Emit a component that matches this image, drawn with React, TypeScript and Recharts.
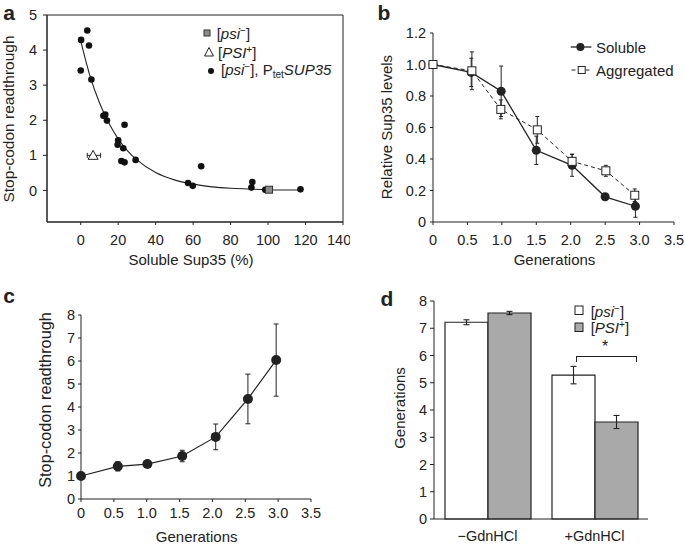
import React from 'react';
import {
  ComposedChart,
  LineChart,
  BarChart,
  Line,
  Bar,
  Scatter,
  XAxis,
  YAxis,
  ErrorBar,
  ReferenceArea,
} from 'recharts';

const FONT = '"Liberation Sans", Arial, Helvetica, sans-serif';
const INK = '#222';
const GREY = '#a9a9a9';

// ---- panel a: readthrough vs soluble Sup35
const solublePct = [0.2, 3.5, 4.4, 0, 5.7, 12.1, 13.1, 14, 23.4, 20, 19.7, 22.7, 21.7, 23.4, 29.3, 64.3, 57.3, 59.8, 91.6, 91.1, 98.5, 99, 117.3];
const readthrough = [4.29, 4.56, 4.13, 3.42, 3.16, 2.13, 2.16, 1.99, 1.87, 1.43, 1.3, 1.2, 0.84, 0.8, 0.87, 0.69, 0.21, 0.13, 0.24, 0.08, 0.02, 0.02, 0.03];
const fitPct = [0, 5, 10, 15, 20, 25, 30, 40, 50, 60, 70, 80, 90, 100, 110, 117];
const fitRead = [4.26, 3.25, 2.5, 1.92, 1.47, 1.13, 0.87, 0.51, 0.3, 0.18, 0.1, 0.06, 0.04, 0.02, 0.01, 0.01];
const psiMinusRef = [{ x: 100.5, y: 0.02 }];
const psiPlusRef = [{ x: 6.6, y: 1.0, xErr: [3.1, 4.0] }];
const aTicksX = [0, 20, 40, 60, 80, 100, 120, 140];
const aTicksY = [0, 1, 2, 3, 4, 5];

// ---- panel b: Sup35 levels over generations
const solGen = [0, 0.555, 0.99, 1.5, 2.02, 2.5, 2.94];
const solLevel = [1.0, 0.95, 0.83, 0.455, 0.36, 0.16, 0.1];
const solErr = [0, 0.09, 0.16, 0.09, 0.07, 0.01, 0.07];
const aggGen = [0, 0.565, 0.985, 1.515, 2.02, 2.51, 2.93];
const aggLevel = [1.0, 0.96, 0.715, 0.585, 0.385, 0.325, 0.17];
const aggErr = [0, 0.12, 0.06, 0.085, 0.045, 0.035, 0.04];
const genTicks = [0, 0.5, 1, 1.5, 2, 2.5, 3, 3.5];
const bTicksY = [0, 0.2, 0.4, 0.6, 0.8, 1.0, 1.2];

// ---- panel c: readthrough over generations
const cGen = [0, 0.56, 1.01, 1.54, 2.05, 2.54, 2.97];
const cRead = [1.0, 1.42, 1.52, 1.87, 2.7, 4.35, 6.04];
const cErr = [0, 0.2, 0.12, 0.25, 0.56, 1.08, 1.57];
const cTicksY = [0, 1, 2, 3, 4, 5, 6, 7, 8];

// ---- panel d: generations, bars
const treatments = ['\u2212GdnHCl', '+GdnHCl'];
const psiMinusGen = [7.22, 5.28];
const psiMinusErr = [0.09, 0.32];
const psiPlusGen = [7.56, 3.56];
const psiPlusErr = [0.06, 0.24];
const dTicksY = [0, 1, 2, 3, 4, 5, 6, 7, 8];

const fitData = fitPct.map((x, i) => ({ x, y: fitRead[i] }));
const dotData = solublePct.map((x, i) => ({ x, y: readthrough[i] }));
const solData = solGen.map((x, i) => ({ x, y: solLevel[i], e: solErr[i] }));
const aggData = aggGen.map((x, i) => ({ x, y: aggLevel[i], e: aggErr[i] }));
const cData = cGen.map((x, i) => ({ x, y: cRead[i], e: cErr[i] }));
const barData = treatments.map((t, i) => ({
  t,
  minus: psiMinusGen[i],
  minusErr: psiMinusErr[i],
  plus: psiPlusGen[i],
  plusErr: psiPlusErr[i],
}));

const tickStyle = { fill: INK, fontSize: 14.5, fontFamily: FONT };
const axisLine = { stroke: INK, strokeWidth: 1 };
const genFmt = (v: number) => (v === 0 ? '0' : v.toFixed(1));

function Txt({
  x,
  y,
  children,
  rotate = false,
  left = false,
  size = 15,
  bold = false,
}: {
  x: number;
  y: number;
  children: React.ReactNode;
  rotate?: boolean;
  left?: boolean;
  size?: number;
  bold?: boolean;
}) {
  const tr = left ? 'translate(0,-50%)' : 'translate(-50%,-50%)';
  return (
    <div
      style={{
        position: 'absolute',
        left: x,
        top: y,
        transform: rotate ? tr + ' rotate(-90deg)' : tr,
        fontFamily: FONT,
        fontSize: size,
        fontWeight: bold ? 700 : 400,
        color: INK,
        whiteSpace: 'nowrap',
        lineHeight: 1,
      }}
    >
      {children}
    </div>
  );
}

const Sup = ({ children }: { children: React.ReactNode }) => (
  <span style={{ fontSize: 10, verticalAlign: 5 }}>{children}</span>
);

function Marker({ x, y, children }: { x: number; y: number; children: React.ReactNode }) {
  return (
    <svg
      width={24}
      height={16}
      style={{ position: 'absolute', left: x - 12, top: y - 8, overflow: 'visible' }}
    >
      {children}
    </svg>
  );
}

export default function App() {
  return (
    <div
      style={{
        position: 'absolute',
        left: 0,
        top: 0,
        width: 685,
        height: 545,
        background: '#fff',
        overflow: 'hidden',
      }}
    >
      {/* a */}
      <div style={{ position: 'absolute', left: 0, top: 0 }}>
        <ComposedChart width={350} height={270} margin={{ top: 15, right: 7, bottom: 18, left: 0 }}>
          <XAxis
            type="number"
            dataKey="x"
            domain={[-18, 140]}
            ticks={aTicksX}
            tick={tickStyle}
            tickSize={3}
            tickMargin={9.5}
            axisLine={axisLine}
            tickLine={axisLine}
            height={30}
            allowDataOverflow
          />
          <YAxis
            type="number"
            dataKey="y"
            domain={[-0.9, 5]}
            ticks={aTicksY}
            tick={tickStyle}
            tickSize={4}
            tickMargin={6}
            axisLine={axisLine}
            tickLine={axisLine}
            width={47}
            allowDataOverflow
          />
          <ReferenceArea x1={-18} x2={140} y1={-0.9} y2={5} fill="none" stroke={INK} strokeWidth={1} />
          <Line
            data={fitData}
            dataKey="y"
            type="monotone"
            stroke={INK}
            strokeWidth={1.1}
            dot={false}
            isAnimationActive={false}
          />
          <Scatter
            data={dotData}
            dataKey="y"
            isAnimationActive={false}
            shape={(p: any) => <circle cx={p.cx} cy={p.cy} r={3.3} fill="#111" />}
          />
          <Scatter
            data={psiMinusRef}
            dataKey="y"
            isAnimationActive={false}
            shape={(p: any) => (
              <rect x={p.cx - 3.5} y={p.cy - 3.5} width={7} height={7} fill="#8c8c8c" stroke="#333" strokeWidth={1} />
            )}
          />
          <Scatter
            data={psiPlusRef}
            dataKey="y"
            isAnimationActive={false}
            shape={(p: any) => (
              <path
                d={`M${p.cx},${p.cy - 5} L${p.cx + 5},${p.cy + 4} L${p.cx - 5},${p.cy + 4} Z`}
                fill="#fff"
                stroke={INK}
                strokeWidth={1}
              />
            )}
          >
            <ErrorBar dataKey="xErr" direction="x" width={2.5} stroke={INK} strokeWidth={1} />
          </Scatter>
        </ComposedChart>
      </div>

      {/* b */}
      <div style={{ position: 'absolute', left: 340, top: 0 }}>
        <LineChart width={345} height={270} margin={{ top: 33, right: 11, bottom: 18, left: 0 }}>
          <XAxis
            type="number"
            dataKey="x"
            domain={[0, 3.5]}
            ticks={genTicks}
            tickFormatter={genFmt}
            tick={tickStyle}
            tickSize={3}
            tickMargin={9.5}
            axisLine={axisLine}
            tickLine={axisLine}
            height={30}
          />
          <YAxis
            type="number"
            domain={[0, 1.2]}
            ticks={bTicksY}
            tickFormatter={genFmt}
            tick={tickStyle}
            tickSize={3}
            tickMargin={4}
            axisLine={axisLine}
            tickLine={axisLine}
            width={93}
          />
          <Line
            data={solData}
            dataKey="y"
            type="linear"
            stroke={INK}
            strokeWidth={1.3}
            isAnimationActive={false}
            dot={(p: any) => <circle key={`s${p.index}`} cx={p.cx} cy={p.cy} r={4.5} fill={INK} />}
          >
            <ErrorBar dataKey="e" direction="y" width={2} stroke={INK} strokeWidth={1} />
          </Line>
          <Line
            data={aggData}
            dataKey="y"
            type="linear"
            stroke={INK}
            strokeWidth={1}
            strokeDasharray="4 3"
            isAnimationActive={false}
            dot={(p: any) => (
              <rect key={`a${p.index}`} x={p.cx - 4} y={p.cy - 4} width={8} height={8} fill="#fff" stroke={INK} strokeWidth={1} />
            )}
          >
            <ErrorBar dataKey="e" direction="y" width={2} stroke={INK} strokeWidth={1} />
          </Line>
        </LineChart>
      </div>

      {/* c */}
      <div style={{ position: 'absolute', left: 0, top: 280 }}>
        <LineChart width={340} height={265} margin={{ top: 35, right: 29, bottom: 16, left: 0 }}>
          <XAxis
            type="number"
            dataKey="x"
            domain={[0, 3.5]}
            ticks={genTicks}
            tickFormatter={genFmt}
            tick={tickStyle}
            tickSize={3}
            tickMargin={6}
            axisLine={axisLine}
            tickLine={axisLine}
            height={30}
          />
          <YAxis
            type="number"
            domain={[0, 8]}
            ticks={cTicksY}
            tick={tickStyle}
            tickSize={3}
            tickMargin={3}
            axisLine={axisLine}
            tickLine={axisLine}
            width={81}
          />
          <Line
            data={cData}
            dataKey="y"
            type="linear"
            stroke={INK}
            strokeWidth={1.2}
            isAnimationActive={false}
            dot={(p: any) => <circle key={`c${p.index}`} cx={p.cx} cy={p.cy} r={5} fill={INK} />}
          >
            <ErrorBar dataKey="e" direction="y" width={2.5} stroke={INK} strokeWidth={1} />
          </Line>
        </LineChart>
      </div>

      {/* d */}
      <div style={{ position: 'absolute', left: 340, top: 280 }}>
        <BarChart
          width={345}
          height={265}
          data={barData}
          margin={{ top: 21, right: 37, bottom: 0, left: 0 }}
          barGap={0}
          barSize={43}
        >
          <XAxis
            dataKey="t"
            tick={tickStyle}
            tickLine={false}
            tickSize={5}
            tickMargin={7}
            axisLine={axisLine}
            height={26}
          />
          <XAxis
            xAxisId="edge"
            type="number"
            domain={[0, 2]}
            ticks={[0, 1, 2]}
            tick={false}
            axisLine={false}
            tickLine={axisLine}
            tickSize={4}
            height={0}
          />
          <YAxis
            type="number"
            domain={[0, 8]}
            ticks={dTicksY}
            tick={tickStyle}
            tickSize={4}
            tickMargin={3}
            axisLine={axisLine}
            tickLine={axisLine}
            width={94}
          />
          <Bar dataKey="minus" fill="#fff" stroke={INK} strokeWidth={1.2} isAnimationActive={false}>
            <ErrorBar dataKey="minusErr" direction="y" width={3} stroke={INK} strokeWidth={1.1} />
          </Bar>
          <Bar dataKey="plus" fill={GREY} stroke={INK} strokeWidth={1.2} isAnimationActive={false}>
            <ErrorBar dataKey="plusErr" direction="y" width={3} stroke={INK} strokeWidth={1.1} />
          </Bar>
        </BarChart>
      </div>

      {/* panel letters */}
      <Txt x={9} y={11.5} size={21} bold>a</Txt>
      <Txt x={384} y={11.5} size={21} bold>b</Txt>
      <Txt x={9} y={294.5} size={21} bold>c</Txt>
      <Txt x={387} y={298} size={21} bold>d</Txt>

      {/* axis titles */}
      <Txt x={8.5} y={119} rotate size={15.5}>Stop-codon readthrough</Txt>
      <Txt x={191} y={259}>Soluble Sup35 (%)</Txt>
      <Txt x={386} y={126.5} rotate>Relative Sup35 levels</Txt>
      <Txt x={554.5} y={259}>Generations</Txt>
      <Txt x={44.5} y={400} rotate size={16.3}>Stop-codon readthrough</Txt>
      <Txt x={196.7} y={536}>Generations</Txt>
      <Txt x={399} y={407.5} rotate>Generations</Txt>

      {/* legend a */}
      <Marker x={207.3} y={33.3}>
        <rect x={9} y={5} width={6} height={6} fill="#8c8c8c" stroke="#333" strokeWidth={1} />
      </Marker>
      <Txt x={216.7} y={33.3} left>
        [<i>psi</i>
        <Sup>{'\u2212'}</Sup>]
      </Txt>
      <Marker x={209} y={51.7}>
        <path d="M12,3.5 L16.5,12 L7.5,12 Z" fill="#fff" stroke={INK} strokeWidth={1} />
      </Marker>
      <Txt x={218} y={51.7} left>
        [<i>PSI</i>
        <Sup>+</Sup>]
      </Txt>
      <Marker x={210.7} y={71}>
        <circle cx={12} cy={8} r={3} fill="#111" />
      </Marker>
      <Txt x={221} y={71} left>
        [<i>psi</i>
        <Sup>{'\u2212'}</Sup>], P
        <span style={{ fontSize: 10, verticalAlign: -3 }}>tet</span>
        <i>SUP35</i>
      </Txt>

      {/* legend b */}
      <Marker x={581.3} y={46.7}>
        <line x1={1.7} y1={8} x2={22.4} y2={8} stroke={INK} strokeWidth={1.3} />
        <circle cx={11.4} cy={8} r={4} fill={INK} />
      </Marker>
      <Txt x={596} y={46.7} left>Soluble</Txt>
      <Marker x={581.5} y={70}>
        <line x1={1.5} y1={8} x2={22.5} y2={8} stroke={INK} strokeWidth={1} strokeDasharray="4 3" />
        <rect x={8.2} y={4.5} width={7} height={7} fill="#fff" stroke={INK} strokeWidth={1} />
      </Marker>
      <Txt x={596} y={70} left>Aggregated</Txt>

      {/* legend d */}
      <Marker x={578.7} y={310.3}>
        <rect x={8} y={4} width={8} height={8.5} fill="#fff" stroke={INK} strokeWidth={1} />
      </Marker>
      <Txt x={590.7} y={310.7} left>
        [<i>psi</i>
        <Sup>{'\u2212'}</Sup>]
      </Txt>
      <Marker x={578.7} y={327.3}>
        <rect x={8} y={4} width={8} height={8.5} fill={GREY} stroke={INK} strokeWidth={1} />
      </Marker>
      <Txt x={590.7} y={327.3} left>
        [<i>PSI</i>
        <Sup>+</Sup>]
      </Txt>

      {/* significance bracket */}
      <div
        style={{
          position: 'absolute',
          left: 575.7,
          top: 355.7,
          width: 59,
          height: 5,
          borderTop: `1px solid ${INK}`,
          borderLeft: `1px solid ${INK}`,
          borderRight: `1px solid ${INK}`,
        }}
      />
      <Txt x={605} y={347} size={16}>*</Txt>
    </div>
  );
}
